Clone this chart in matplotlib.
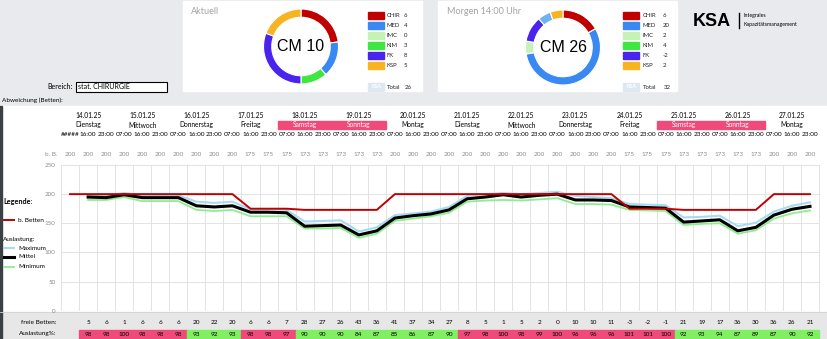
import numpy as np
import matplotlib
matplotlib.use('Agg')
import matplotlib.pyplot as plt
import matplotlib.transforms as mtransforms
from matplotlib.patches import Rectangle

plt.rcParams['font.family'] = ['Lato', 'DejaVu Sans']

W, H = 828, 339

# --- data ---
dates = ['14.01.25', '15.01.25', '16.01.25', '17.01.25', '18.01.25', '19.01.25', '20.01.25',
         '21.01.25', '22.01.25', '23.01.25', '24.01.25', '25.01.25', '26.01.25', '27.01.25']
weekdays = ['Dienstag', 'Mittwoch', 'Donnerstag', 'Freitag', 'Samstag', 'Sonntag', 'Montag',
            'Dienstag', 'Mittwoch', 'Donnerstag', 'Freitag', 'Samstag', 'Sonntag', 'Montag']
weekend = [4, 5, 11, 12]
time_labels = ['#####', '16:00', '23:00'] + ['07:00', '16:00', '23:00'] * 13

betten = [200, 200, 200, 200, 200, 200, 200, 200, 200, 200, 175, 175, 175, 173, 173,
          173, 173, 173, 200, 200, 200, 200, 200, 200, 200, 200, 200, 200, 200, 200,
          200, 175, 175, 175, 173, 173, 173, 173, 173, 200, 200, 200]
mittel = [np.nan, 195, 194, 199, 194, 194, 194, 180, 178, 180, 169, 169, 168, 145, 146,
          147, 130, 137, 159, 163, 166, 173, 192, 195, 199, 195, 198, 200, 190, 190,
          189, 178, 177, 176, 152, 154, 156, 137, 143, 164, 174, 179]
maximum = [np.nan, 198, 198, 202, 198, 198, 198, 187, 185, 187, 174, 174, 173, 153, 154,
           155, 136, 143, 164, 167, 170, 178, 197, 200, 202, 200, 202, 204, 197, 195,
           193, 183, 182, 181, 160, 161, 163, 145, 151, 170, 180, 186]
minimum = [np.nan, 190, 190, 195, 188, 188, 188, 173, 171, 173, 162, 162, 162, 141, 141,
           142, 125, 132, 154, 158, 162, 168, 187, 189, 190, 189, 191, 193, 183, 183,
           182, 173, 172, 171, 147, 149, 150, 132, 138, 158, 167, 172]
freie = [5, 6, 1, 6, 6, 6, 20, 22, 20, 6, 6, 7, 28, 27, 26, 43, 36, 41, 37, 34, 27,
         8, 5, 1, 5, 2, 0, 10, 10, 11, -3, -2, -1, 21, 19, 17, 36, 30, 36, 26, 21]
auslastung = [98, 98, 100, 98, 98, 98, 93, 92, 93, 98, 98, 97, 90, 90, 90, 84, 87, 85, 86, 87, 90,
              97, 98, 100, 98, 99, 100, 96, 96, 96, 101, 101, 100, 92, 93, 94, 87, 89, 87, 90, 92]

categories = ['CHIR', 'MED', 'IMC', 'KIM', 'FK', 'KSP']
cat_colors = ['#c00000', '#3a88f2', '#c6f2b6', '#3fe63f', '#4a24ee', '#f8b420']
aktuell = [6, 4, 0, 3, 8, 5]
morgen = [6, 20, 2, 4, -2, 2]
morgen_ring = [6, 20, 2, 4, 2, 2]
morgen_ring_colors = ['#c00000', '#3a88f2', '#c6f2b6', '#4a24ee', '#6fb2f0', '#f8b420']

PINK = '#f04a7b'
GREEN = '#80f062'

fig = plt.figure(figsize=(W / 100, H / 100), dpi=100)
fig.patch.set_facecolor('#e8eaed')


def px_axes(x0, y0, w, h):
    return fig.add_axes([x0 / W, 1 - (y0 + h) / H, w / W, h / H])


bg = fig.add_axes([0, 0, 1, 1], zorder=0)
bg.set_xlim(0, W)
bg.set_ylim(H, 0)
bg.axis('off')

bg.add_patch(Rectangle((0, 106), W, 206, color='white'))
bg.add_patch(Rectangle((0, 312), W, 27, color='#e7e7e7'))
bg.plot([0, W], [312, 312], color='#d2d2d2', lw=0.6)
bg.add_patch(Rectangle((0, 106), 2.5, 233, color='#3b4045'))
bg.add_patch(Rectangle((183, 1), 239, 90, color='white'))
bg.add_patch(Rectangle((438, 1), 239, 90, color='white'))

# --- panels ---
bg.text(191, 12, 'Aktuell', color='#a3a3a3', fontsize=6.5, va='center')
bg.text(447, 12, 'Morgen 14:00 Uhr', color='#a3a3a3', fontsize=6.5, va='center')

for x0, lx, vx, vals, total in [(368, 387, 404, aktuell, 26), (623, 643, 663, morgen, 32)]:
    for k, (cat, col, v) in enumerate(zip(categories, cat_colors, vals)):
        y = 15.7 + 10 * k
        bg.add_patch(Rectangle((x0, y - 3.5), 16.5, 7, color=col))
        bg.text(lx, y, cat, fontsize=4.3, va='center', color='#222222')
        bg.text(vx, y, str(v), fontsize=4.3, va='center', color='#222222')
    bg.add_patch(Rectangle((x0, 83), 16.5, 8, color='#dce9f5'))
    bg.text(x0 + 8.25, 87, 'KSA', fontsize=3.8, color='white', ha='center', va='center', weight='bold')
    bg.text(lx, 87.5, 'Total', fontsize=4.3, va='center', color='#222222')
    bg.text(vx + 1, 87.5, str(total), fontsize=4.3, va='center', color='#222222')

for (cx, cy), vals, cols, label in [((301, 46.5), aktuell, cat_colors, 'CM 10'),
                                    ((563, 47.5), morgen_ring, morgen_ring_colors, 'CM 26')]:
    dax = px_axes(cx - 37.5, cy - 37.5, 75, 75)
    dax.pie(vals, colors=cols, startangle=90, counterclock=False,
            wedgeprops=dict(width=0.22, edgecolor='white', linewidth=0.8))
    dax.set_xlim(-1, 1)
    dax.set_ylim(-1, 1)
    dax.text(0, 0, label, ha='center', va='center', fontsize=11.5, family='Liberation Sans')

# KSA logo
bg.text(693, 21, 'KSA', fontsize=13, weight='bold', family='Liberation Sans', va='center')
bg.plot([739, 739], [13, 28], color='black', lw=1.0)
bg.text(744, 16, 'Integrales', fontsize=3.8, va='center')
bg.text(744, 24.5, 'Kapazitätsmanagement', fontsize=3.8, va='center')

# Bereich
bg.text(73, 86.5, 'Bereich:', ha='right', va='center', fontsize=5)
bg.add_patch(Rectangle((76, 81.5), 91, 10, facecolor='white', edgecolor='black', lw=0.8))
bg.text(78.5, 86.5, 'stat. CHIRURGIE', va='center', fontsize=5)
bg.text(2, 100, 'Abweichung (Betten):', va='center', fontsize=4.6)

# --- main chart ---
ax = fig.add_axes([61 / W, (H - 310.7) / H, (819 - 61) / W, (310.7 - 165) / H], zorder=1)
ax.set_facecolor('white')
x = np.arange(len(betten))
ax.plot(x, minimum, color='#8eee8e', lw=1.3, zorder=3)
ax.plot(x, maximum, color='#a8dbf1', lw=1.5, zorder=3)
ax.plot(x, mittel, color='black', lw=2.2, zorder=4)
ax.plot(x, betten, color='#c00000', lw=1.4, zorder=5)
ax.set_xlim(-0.5, len(betten) - 0.5)
ax.set_ylim(0, 250)
ax.set_xticks(np.arange(-0.5, len(betten), 1))
ax.set_yticks([0, 50, 100, 150, 200, 250])
ax.tick_params(length=0, labelbottom=False, labelsize=4.5, labelcolor='#8c8c8c', pad=4)
ax.grid(color='#dedede', lw=0.6)
for s in ['top', 'left', 'bottom']:
    ax.spines[s].set_visible(False)
ax.spines['right'].set_color('#dedede')
ax.spines['right'].set_linewidth(0.6)

# legend at the left
bg.text(3, 201.5, 'Legende:', fontsize=5.2, weight='bold', va='center')
bg.plot([4, 14], [220, 220], color='#c00000', lw=1.4)
bg.text(18, 220, 'b. Betten', fontsize=4.6, va='center')
bg.text(3, 239, 'Auslastung:', fontsize=4.6, va='center')
for yy, col, lw, name in [(248, '#a8dbf1', 1.5, 'Maximum'), (257, 'black', 2.2, 'Mittel'),
                          (267, '#8eee8e', 1.3, 'Minimum')]:
    bg.plot([4, 14], [yy, yy], color=col, lw=lw)
    bg.text(18, yy, name, fontsize=4.6, va='center')

# --- table rows, x in chart columns ---
trans = mtransforms.blended_transform_factory(ax.transData, bg.transData)

for d in weekend:
    bg.add_patch(Rectangle((3 * d - 0.5, 120.7), 3, 8.6, color=PINK, transform=trans))
for d, (dt, wd) in enumerate(zip(dates, weekdays)):
    c = 3 * d + 1
    bg.text(c, 116, dt, transform=trans, ha='center', va='center', fontsize=4.8)
    bg.text(c, 125, wd, transform=trans, ha='center', va='center', fontsize=4.8,
            color='white' if d in weekend else 'black')
for i, t in enumerate(time_labels):
    bg.text(i, 135, t, transform=trans, ha='center', va='center', fontsize=4.6)

bg.text(58, 154, 'b. B.', ha='right', va='center', fontsize=4.6, color='#8c8c8c')
for i, v in enumerate(betten):
    bg.text(i, 154, str(v), transform=trans, ha='center', va='center', fontsize=4.6, color='#8c8c8c')

bg.text(56, 323, 'freie Betten:', ha='right', va='center', fontsize=4.6)
bg.text(56, 334, 'Auslastung%:', ha='right', va='center', fontsize=4.6)
for i, (f, p) in enumerate(zip(freie, auslastung), start=1):
    bg.add_patch(Rectangle((i - 0.5, 329.5), 1, 9, color=PINK if p >= 95 else GREEN, transform=trans))
    bg.text(i, 323, str(f), transform=trans, ha='center', va='center', fontsize=4.6)
    bg.text(i, 334, str(p), transform=trans, ha='center', va='center', fontsize=4.6)

fig.savefig('out.png', dpi=100, facecolor=fig.get_facecolor())
